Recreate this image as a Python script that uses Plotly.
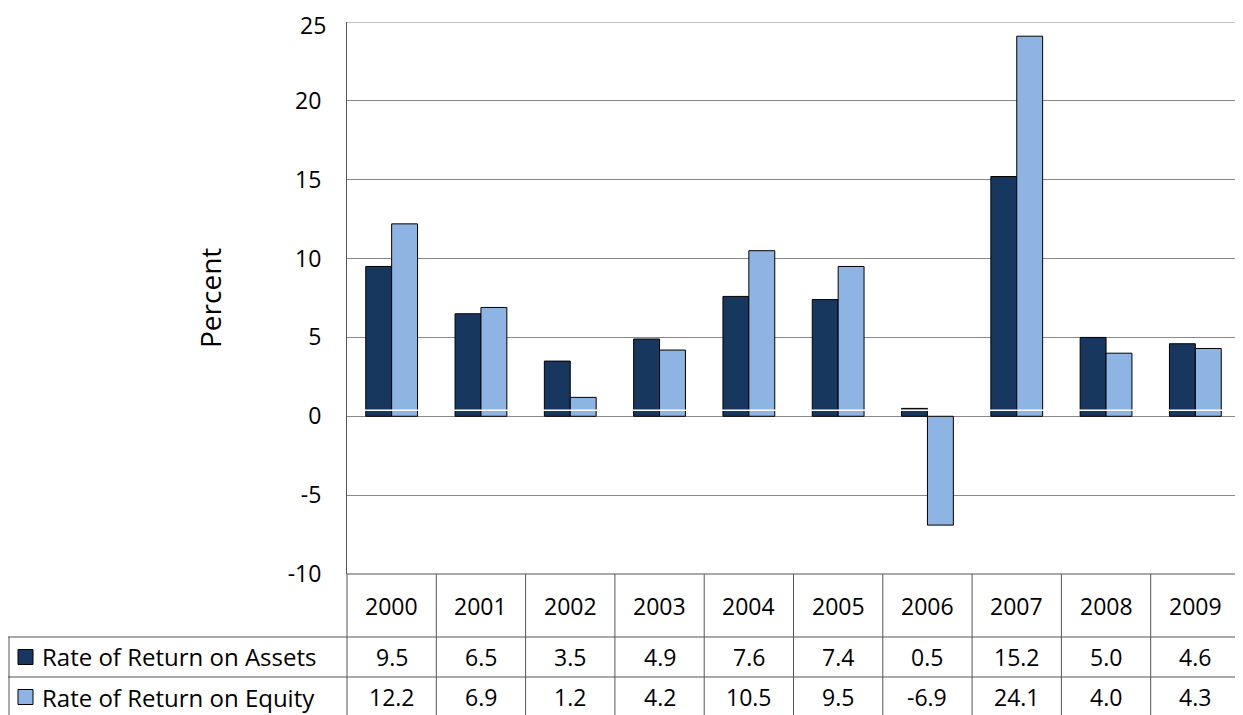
import plotly.graph_objects as go

years = ["2000", "2001", "2002", "2003", "2004", "2005", "2006", "2007", "2008", "2009"]
assets = [9.5, 6.5, 3.5, 4.9, 7.6, 7.4, 0.5, 15.2, 5.0, 4.6]
equity = [12.2, 6.9, 1.2, 4.2, 10.5, 9.5, -6.9, 24.1, 4.0, 4.3]
names = ["Rate of Return on Assets", "Rate of Return on Equity"]
colors = ["#17375E", "#8EB4E3"]
yticks = [-10, -5, 0, 5, 10, 15, 20, 25]

OFF = 8  # page body margin
W, H = 1243 - OFF, 715 - OFF
# plot area in screen pixels
L, R, T, B = 347, 1240, 22, 574
FONT = "Open Sans"


def xp(px):
    return (px - L) / (R - L)


def yp(py):
    return (B - py) / (B - T)


fig = go.Figure()
for name, vals, c in zip(names, [assets, equity], colors):
    fig.add_trace(go.Bar(x=years, y=vals, name=name, marker=dict(color=c, line=dict(color="black", width=1))))

shapes = []
line = dict(color="#555555", width=1)
# top gridline (25) drawn by hand since its label is placed manually
shapes.append(dict(type="line", xref="paper", yref="y", x0=0, x1=1, y0=yticks[-1], y1=yticks[-1],
                   line=dict(color="#888888", width=1), layer="below"))
# white line inside bars just above zero
shapes.append(dict(type="line", xref="paper", yref="y", x0=0, x1=1, y0=0.38, y1=0.38,
                   line=dict(color="white", width=1.5), layer="above"))
# table lines
shapes.append(dict(type="line", xref="paper", yref="paper", x0=0, x1=1, y0=0, y1=0, line=line))
for py in [637, 677]:
    shapes.append(dict(type="line", xref="paper", yref="paper", x0=xp(8), x1=1, y0=yp(py), y1=yp(py), line=line))
shapes.append(dict(type="line", xref="paper", yref="paper", x0=xp(9), x1=xp(9), y0=yp(637), y1=yp(715), line=line))
cw = (R - L) / len(years)
for i in range(len(years) + 1):
    x = xp(L + i * cw)
    shapes.append(dict(type="line", xref="paper", yref="paper", x0=x, x1=x, y0=0, y1=yp(715), line=line))
# legend keys
for py, c in zip([657, 697], colors):
    shapes.append(dict(type="rect", xref="paper", yref="paper", x0=xp(18), x1=xp(33),
                       y0=yp(py - 7.5), y1=yp(py + 7.5), fillcolor=c, line=dict(color="black", width=1)))

ann = []
f = dict(family=FONT, size=23, color="black")
for i, y in enumerate(years):
    cx = xp(L + (i + 0.5) * cw)
    for py, t in [(606, y), (657, f"{assets[i]:.1f}"), (697, f"{equity[i]:.1f}")]:
        ann.append(dict(x=cx, xref="paper", y=yp(py), yref="paper", text=t, showarrow=False,
                        xanchor="center", yanchor="middle", font=f))
for py, n in zip([657, 697], names):
    ann.append(dict(x=xp(40), xref="paper", y=yp(py), yref="paper", text=n, showarrow=False,
                    xanchor="left", yanchor="middle", font=dict(family=FONT, size=24, color="black")))
ann.append(dict(x=xp(210), xref="paper", y=0.5, yref="paper", text="Percent", showarrow=False,
                xanchor="center", yanchor="middle",
                textangle=-90, font=dict(family=FONT, size=28, color="black")))
# top tick label
ann.append(dict(x=xp(327), xref="paper", y=yticks[-1], yref="y", text=str(yticks[-1]), showarrow=False,
                xanchor="right", yanchor="middle", yshift=-3, borderpad=0, font=f))

fig.update_layout(
    width=W, height=H,
    margin=dict(l=L - OFF, r=1243 - R, t=T - OFF, b=715 - B),
    paper_bgcolor="white", plot_bgcolor="white",
    showlegend=False, barmode="group", bargap=0.42, bargroupgap=0,
    font=dict(family=FONT, size=20, color="black"),
    xaxis=dict(type="category", showticklabels=False, showgrid=False, range=[-0.5, 9.5],
               showline=False, automargin=False),
    yaxis=dict(range=[-10, 25], tickvals=yticks[:-1], ticktext=[str(v) for v in yticks[:-1]],
               showgrid=True, gridcolor="#888888", gridwidth=1, automargin=False,
               zeroline=False, showline=True, linecolor="#555555", ticks="", ticklen=0,
               tickfont=dict(family=FONT, size=23), ticklabelstandoff=20),
    shapes=shapes, annotations=ann,
)

fig.write_html("out.html")
